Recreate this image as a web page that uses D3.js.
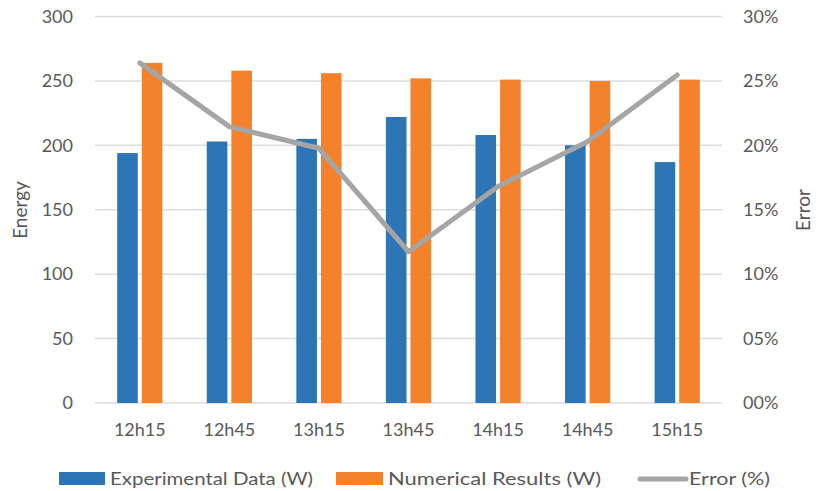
<!DOCTYPE html>
<html>
<head>
<meta charset="utf-8">
<script src="https://cdn.jsdelivr.net/npm/d3@7/dist/d3.min.js"></script>
<style>
  html, body { margin: 0; padding: 0; background: #fff; }
  svg text { font-family: Lato, "Open Sans", sans-serif; fill: #595959; }
</style>
</head>
<body>
<svg id="chart" width="820" height="491"></svg>
<script>
// Time slots
const categories = ["12h15", "12h45", "13h15", "13h45", "14h15", "14h45", "15h15"];
// Measured energy (W)
const experimental = [194, 203, 205, 222, 208, 200, 187];
// Simulated energy (W)
const numerical = [264, 258, 256, 252, 251, 250, 251];
// Relative error between the two
const errorPct = [0.264, 0.2145, 0.1977, 0.1174, 0.168, 0.203, 0.2546];
// Axis ticks
const energyTicks = [0, 50, 100, 150, 200, 250, 300];
const errorTicks = [0, 0.05, 0.10, 0.15, 0.20, 0.25, 0.30];

const seriesNames = ["Experimental Data (W)", "Numerical Results (W)", "Error (%)"];
const colors = { exp: "#2e75b6", num: "#f4812b", err: "#a5a5a5", grid: "#dcdcdc" };

const svg = d3.select("#chart");
const plot = { left: 95, right: 722, top: 16.5, bottom: 403 };

const x = d3.scaleBand().domain(categories).range([plot.left, plot.right]);
const yL = d3.scaleLinear().domain([0, 300]).range([plot.bottom, plot.top]);
const yR = d3.scaleLinear().domain([0, 0.30]).range([plot.bottom, plot.top]);

// gridlines
svg.append("g").selectAll("line").data(energyTicks).join("line")
  .attr("x1", plot.left).attr("x2", plot.right)
  .attr("y1", d => yL(d)).attr("y2", d => yL(d))
  .attr("stroke", colors.grid).attr("stroke-width", 1.5);

// bars
const barW = x.bandwidth() * 0.23;
const gap = 4;
const bars = svg.append("g");
bars.selectAll("rect.exp").data(categories).join("rect").attr("class", "exp")
  .attr("x", (d) => x(d) + x.bandwidth() / 2 - gap / 2 - barW)
  .attr("width", barW)
  .attr("y", (d, i) => yL(experimental[i]))
  .attr("height", (d, i) => yL(0) - yL(experimental[i]))
  .attr("fill", colors.exp);
bars.selectAll("rect.num").data(categories).join("rect").attr("class", "num")
  .attr("x", (d) => x(d) + x.bandwidth() / 2 + gap / 2)
  .attr("width", barW)
  .attr("y", (d, i) => yL(numerical[i]))
  .attr("height", (d, i) => yL(0) - yL(numerical[i]))
  .attr("fill", colors.num);

// error line
const line = d3.line()
  .x((d, i) => x(categories[i]) + x.bandwidth() / 2)
  .y(d => yR(d));
svg.append("path").datum(errorPct)
  .attr("d", line)
  .attr("fill", "none").attr("stroke", colors.err)
  .attr("stroke-width", 5).attr("stroke-linecap", "round").attr("stroke-linejoin", "round");

// left axis
const axL = d3.axisLeft(yL).tickValues(energyTicks).tickSize(0).tickPadding(22);
const gL = svg.append("g").attr("transform", `translate(${plot.left},0)`).call(axL);
gL.select(".domain").remove();
gL.selectAll("text").style("font-size", "18px").attr("fill", "#595959");

// right axis
const axR = d3.axisRight(yR).tickValues(errorTicks).tickSize(0).tickPadding(21)
  .tickFormat(d => d3.format("02d")(Math.round(d * 100)) + "%");
const gR = svg.append("g").attr("transform", `translate(${plot.right},0)`).call(axR);
gR.select(".domain").remove();
gR.selectAll("text").style("font-size", "18px").attr("fill", "#595959");

// bottom axis
const axB = d3.axisBottom(x).tickSize(0).tickPadding(20);
const gB = svg.append("g").attr("transform", `translate(0,${plot.bottom})`).call(axB);
gB.select(".domain").remove();
gB.selectAll("text").style("font-size", "18px").attr("fill", "#595959");

// axis titles
svg.append("text").attr("transform", "translate(27,210) rotate(-90)")
  .attr("text-anchor", "middle").style("font-size", "19px").text("Energy");
svg.append("text").attr("transform", "translate(810,210) rotate(-90)")
  .attr("text-anchor", "middle").style("font-size", "19px").text("Error");

// legend
const lg = svg.append("g");
lg.append("rect").attr("x", 59).attr("y", 472).attr("width", 46).attr("height", 13).attr("fill", colors.exp);
lg.append("text").attr("x", 110).attr("y", 485).style("font-size", "18px")
  .attr("textLength", 203).attr("lengthAdjust", "spacingAndGlyphs").text(seriesNames[0]);
lg.append("rect").attr("x", 336).attr("y", 472).attr("width", 47).attr("height", 13).attr("fill", colors.num);
lg.append("text").attr("x", 388).attr("y", 485).style("font-size", "18px")
  .attr("textLength", 213).attr("lengthAdjust", "spacingAndGlyphs").text(seriesNames[1]);
lg.append("line").attr("x1", 640).attr("x2", 686).attr("y1", 479).attr("y2", 479)
  .attr("stroke", colors.err).attr("stroke-width", 5).attr("stroke-linecap", "round");
lg.append("text").attr("x", 689).attr("y", 485).style("font-size", "18px")
  .attr("textLength", 81).attr("lengthAdjust", "spacingAndGlyphs").text(seriesNames[2]);
</script>
</body>
</html>
